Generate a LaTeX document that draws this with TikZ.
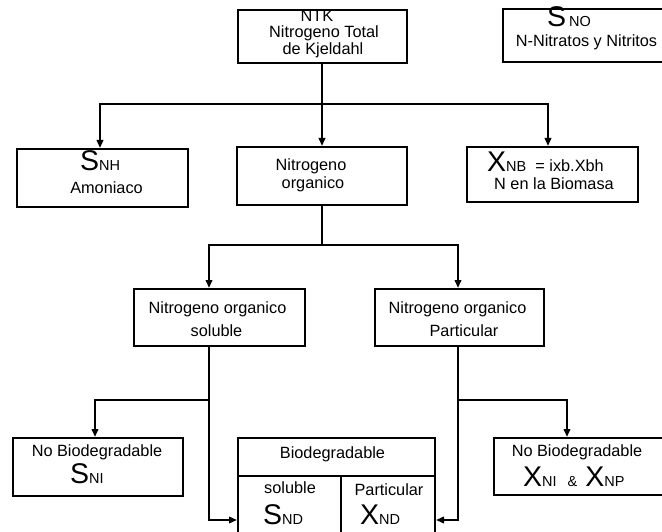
\documentclass[tikz,border=0pt]{standalone}
\usepackage{fontspec}
\setmainfont{Liberation Sans}
\usetikzlibrary{arrows.meta}
\newcommand\mybig[1]{{\fontsize{28.5}{28}\selectfont #1}}
\newcommand\mysub[1]{{\fontsize{14.5}{14}\selectfont #1}}
\tikzset{
  box/.style={draw, line width=2pt, inner sep=0pt},
  txt/.style={inner sep=0pt, anchor=base, font=\fontsize{16.3}{18}\selectfont},
  txtw/.style={txt, anchor=base west},
  conn/.style={line width=2pt},
  arr/.style={conn, -{Triangle[length=8pt,width=6.5pt]}},
}
\begin{document}
\begin{tikzpicture}[x=1pt,y=-1pt]
\useasboundingbox (0,0) rectangle (662,532);
\clip (0,0) rectangle (662,532);
% boxes
\node[box, minimum width=169, minimum height=53] (ntk) at (322,36.5) {};
\node[box, minimum width=172, minimum height=53] (sno) at (589,35.5) {};
\node[box, minimum width=171, minimum height=58] (snh) at (102.5,178) {};
\node[box, minimum width=170, minimum height=58] (norg) at (322,176) {};
\node[box, minimum width=171, minimum height=55] (xnb) at (552.5,174.5) {};
\node[box, minimum width=171, minimum height=57] (nos) at (219.5,317.5) {};
\node[box, minimum width=169, minimum height=57] (nop) at (459.5,317.5) {};
\node[box, minimum width=170, minimum height=58] (sni) at (98,467) {};
\node[box, minimum width=197, minimum height=107] (bio) at (336.5,491.5) {};
\node[box, minimum width=186, minimum height=57] (xni) at (587,466.5) {};
% divisions inside bio
\coordinate (g1) at (341,476);
\draw[conn] (bio.west |- g1) -- (bio.east |- g1);
\draw[conn] (g1) -- (g1 |- bio.south);
% texts
\node[txt] (t1) at (317,22) {NTK};
\node[txt] (t2) at (324,38) {Nitrogeno Total};
\node[txt] (t3) at (323,55) {de Kjeldahl};
\node[txtw] (t4) at (547,27) {\mybig{S}\hspace{3pt}\mysub{NO}};
\node[txt] (t5) at (586.5,47) {N-Nitratos y Nitritos};
\node[txtw] (t6) at (80,171) {\mybig{S}\mysub{NH}};
\node[txt] (t7) at (106.5,194) {Amoniaco};
\node[txtw] (t8) at (487,172) {\mybig{X}\mysub{NB}\hspace{9pt}= ixb.Xbh};
\node[txt] (t9) at (554,190) {N en la Biomasa};
\node[txt] (t10) at (311,171) {Nitrogeno};
\node[txt] (t11) at (313,189) {organico};
\node[txt] (t12) at (217.5,313) {Nitrogeno organico};
\node[txt] (t13) at (216.5,336) {soluble};
\node[txt] (t14) at (457.5,313) {Nitrogeno organico};
\node[txt] (t15) at (464,336) {Particular};
\node[txt] (t16) at (97,456) {No Biodegradable};
\node[txtw] (t17) at (70,483) {\mybig{S}\mysub{NI}};
\node[txt] (t18) at (332.5,458) {Biodegradable};
\node[txt] (t19) at (290,493) {soluble};
\node[txtw] (t20) at (263,524) {\mybig{S}\mysub{ND}};
\node[txt] (t21) at (389,495) {Particular};
\node[txtw] (t22) at (360,524) {\mybig{X}\mysub{ND}};
\node[txt] (t23) at (577,456) {No Biodegradable};
\node[txtw] (t24) at (523,486) {\mybig{X}\mysub{NI}\hspace{11pt}\mysub{\&}\hspace{8pt}\mybig{X}\mysub{NP}};
% connectors level 1
\coordinate (a1) at (100,104);
\coordinate (a3) at (548,104);
\draw[arr] (ntk.south) |- (a1) -- (a1 |- snh.north);
\draw[arr] (ntk.south) |- (a3) -- (a3 |- xnb.north);
\draw[arr] (ntk.south) -- (norg.north);
% level 2
\coordinate (b1) at (209,245);
\coordinate (b2) at (458,245);
\draw[arr] (norg.south) |- (b1) -- (b1 |- nos.north);
\draw[arr] (norg.south) |- (b2) -- (b2 |- nop.north);
% level 3 left
\coordinate (c1) at (209,400);
\coordinate (c2) at (95,400);
\coordinate (d1) at (209,520);
\draw[arr] (c1 |- nos.south) -- (d1) -- (d1 -| bio.west);
\draw[arr] (c1) -- (c2) -- (c2 |- sni.north);
% level 3 right
\coordinate (e1) at (458,400);
\coordinate (e2) at (567,400);
\coordinate (f1) at (458,520);
\draw[arr] (e1 |- nop.south) -- (f1) -- (f1 -| bio.east);
\draw[arr] (e1) -- (e2) -- (e2 |- xni.north);
\end{tikzpicture}
\end{document}
